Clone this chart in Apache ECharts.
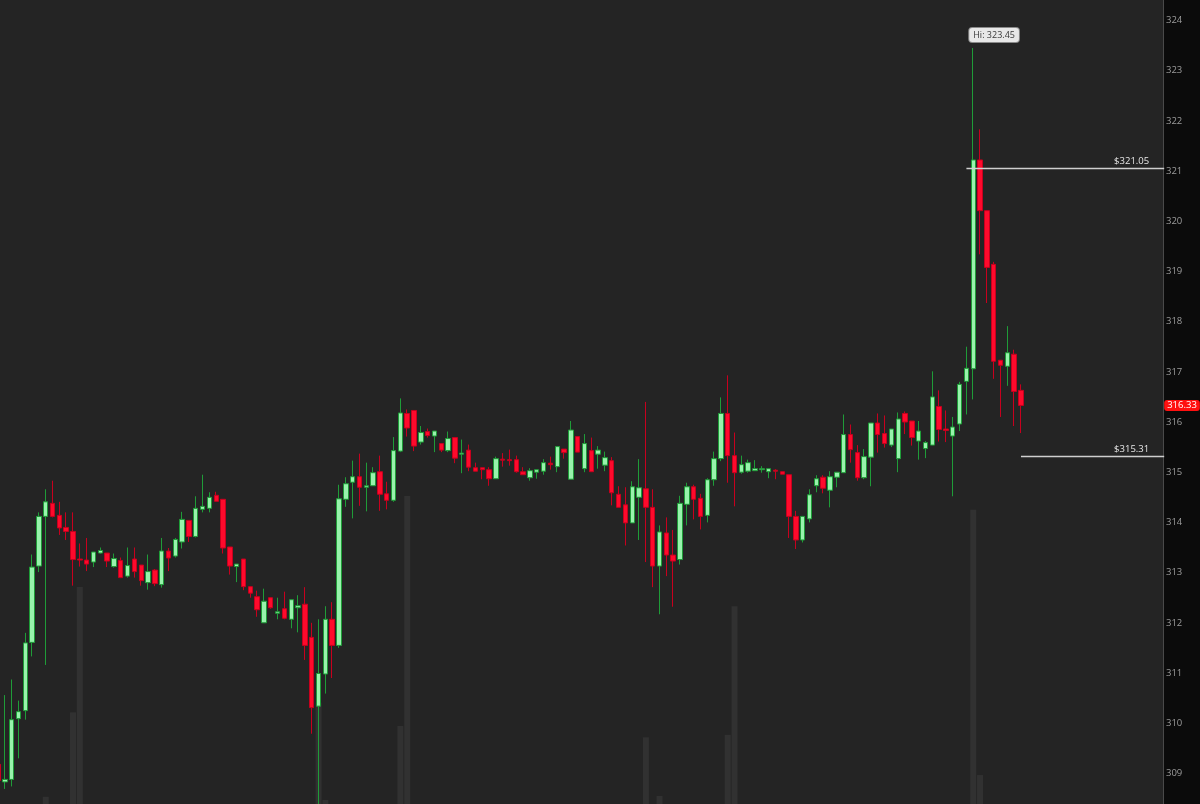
<!DOCTYPE html>
<html><head><meta charset="utf-8">
<script src="https://cdn.jsdelivr.net/npm/echarts@6/dist/echarts.min.js"></script>
<style>html,body{margin:0;padding:0;background:#242424;overflow:hidden}#c{width:1200px;height:804px}</style>
</head><body><div id="c"></div>
<script>
const opens = [
309.18,308.83,308.88,310.09,310.25,311.61,313.13,314.12,314.38,314.14,
313.90,313.82,313.27,313.25,313.21,313.39,313.39,313.12,313.24,312.93,
313.27,313.15,312.80,313.05,312.76,313.43,313.33,313.61,314.04,313.72,
314.26,314.28,314.54,314.46,313.51,313.12,313.27,312.72,312.52,312.00,
312.50,312.19,312.28,312.07,312.30,312.37,311.71,310.34,310.98,312.07,
311.55,314.46,314.80,314.91,314.70,314.73,315.01,314.57,314.44,315.42,
316.17,316.23,315.60,315.81,315.72,315.57,315.43,315.69,315.36,315.44,
315.09,315.09,315.05,314.87,315.26,315.25,315.25,315.01,314.89,315.00,
315.02,315.18,315.11,315.46,314.86,315.71,315.07,315.43,315.36,315.14,
315.23,314.56,314.35,313.99,314.50,314.67,314.30,313.13,313.79,313.35,
313.26,314.36,314.71,314.48,314.14,314.85,315.27,316.17,315.33,315.00,
315.02,315.03,315.05,315.01,315.04,315.01,314.95,314.12,313.65,314.07,
314.73,314.90,314.64,314.90,314.99,315.75,315.39,314.89,315.30,315.98,
315.77,315.54,315.27,316.17,316.02,315.62,315.47,315.54,316.31,315.86,
315.72,315.96,316.81,317.06,321.22,320.21,319.14,317.23,317.11,317.35,
316.63];
const closes = [
308.86,308.88,310.07,310.23,311.60,313.11,314.12,314.41,314.12,313.89,
313.82,313.26,313.25,313.17,313.41,313.44,313.23,313.28,312.90,313.14,
313.02,312.84,313.02,312.78,313.43,313.29,313.66,314.06,313.72,314.28,
314.32,314.50,314.42,313.49,313.13,313.17,312.72,312.59,312.26,312.43,
312.30,312.22,312.09,312.46,312.34,311.55,310.31,310.99,312.07,311.55,
314.47,314.77,314.91,314.70,314.73,314.99,314.56,314.44,315.43,316.18,
315.88,315.52,315.79,315.73,315.82,315.44,315.67,315.28,315.38,315.10,
315.02,315.05,314.87,315.27,315.24,315.23,315.01,314.95,315.03,315.05,
315.19,315.15,315.51,315.39,315.84,315.40,315.57,315.01,315.44,315.29,
314.59,314.30,313.99,314.71,314.69,314.30,313.13,313.81,313.35,313.23,
314.38,314.71,314.46,314.12,314.85,315.27,316.17,315.33,314.99,315.15,
315.19,315.07,315.07,315.07,315.02,314.96,314.12,313.65,314.12,314.55,
314.87,314.68,314.91,315.00,315.75,315.45,314.89,315.31,315.98,315.75,
315.57,315.86,316.06,316.00,315.69,315.82,315.59,316.50,315.85,315.83,
315.90,316.75,317.07,321.22,320.21,319.08,317.21,317.13,317.38,316.61,
316.33];
const lows = [
308.75,308.69,308.74,309.30,310.07,311.33,313.01,311.16,314.10,313.75,
313.65,312.74,313.12,313.03,313.11,313.38,313.11,313.10,312.89,312.90,
312.90,312.74,312.66,312.73,312.70,313.03,313.30,313.48,313.61,313.70,
314.20,314.20,314.42,313.38,312.96,312.81,312.65,312.50,312.12,312.00,
312.28,312.07,312.07,311.89,311.81,311.26,309.79,308.30,310.59,310.90,
311.50,314.31,314.08,314.33,314.22,314.73,314.23,314.26,314.41,315.40,
315.71,315.42,315.55,315.69,315.40,315.40,315.40,315.18,314.98,315.02,
315.02,314.86,314.73,314.87,315.11,315.13,314.99,314.95,314.83,314.87,
314.95,315.05,315.00,315.27,314.86,315.40,315.00,315.01,315.07,315.02,
314.34,314.30,313.54,313.99,313.65,313.21,312.71,312.17,312.93,312.32,
313.16,313.94,314.06,313.86,314.00,314.73,315.22,314.79,314.32,314.97,
314.99,315.03,314.99,314.88,314.86,314.96,313.69,313.47,313.60,314.00,
314.60,314.58,314.30,314.70,314.99,315.19,314.83,314.86,314.72,315.39,
315.49,315.50,315.00,315.76,315.53,315.25,315.28,315.54,315.61,315.60,
314.52,315.82,316.15,316.45,319.34,318.37,316.86,316.10,316.72,315.92,
315.78];
const highs = [
309.30,310.56,310.87,310.45,311.80,313.36,314.20,314.66,314.83,314.41,
314.20,314.20,313.58,313.69,313.41,313.50,313.39,313.38,313.30,313.50,
313.50,313.15,313.36,313.07,313.69,313.49,313.69,314.21,314.04,314.52,
314.95,314.60,314.61,314.46,313.51,313.17,313.27,312.72,312.64,312.68,
312.50,312.50,312.62,312.46,312.55,312.71,312.00,312.07,312.33,312.41,
314.75,314.90,315.23,315.37,315.19,315.10,315.33,314.81,315.70,316.47,
316.25,316.23,315.92,315.87,315.82,315.57,315.81,315.69,315.65,315.55,
315.19,315.09,315.10,315.31,315.38,315.45,315.33,315.10,315.08,315.05,
315.26,315.31,315.51,315.46,316.02,315.71,315.76,315.69,315.52,315.41,
315.30,314.72,314.70,314.82,315.26,316.40,314.66,313.94,314.10,313.85,
314.53,314.79,314.75,314.57,314.88,315.41,316.49,316.93,315.79,315.33,
315.25,315.24,315.12,315.07,315.06,315.01,314.95,314.23,314.12,314.66,
314.94,314.94,315.02,315.00,316.15,315.95,315.54,315.46,315.98,316.17,
316.13,315.86,316.19,316.21,316.02,316.02,315.62,317.01,316.63,316.23,
316.10,316.80,317.50,323.45,321.83,320.21,319.19,317.23,317.91,317.44,
316.75];
// volume in thousands of shares
const volumes = [
0,0,0,0,0,0,0,9,0,0,
0,114,270,0,0,0,0,0,0,0,
0,0,0,0,0,0,0,0,0,0,
0,0,0,0,0,0,0,0,0,0,
0,0,0,0,0,0,0,126,5,0,
0,0,0,0,0,0,0,0,0,97,
383,0,0,0,0,0,0,0,0,0,
0,0,0,0,0,0,0,0,0,0,
0,0,0,0,0,0,0,0,0,0,
0,0,0,0,0,83,0,10,0,0,
0,0,0,0,0,0,0,86,246,0,
0,0,0,0,0,0,0,0,0,0,
0,0,0,0,0,0,0,0,0,0,
0,0,0,0,0,0,0,0,0,0,
0,0,0,366,36,0,0,0,0,0,
0];
// bar slots: 151 traded bars followed by empty future slots on the right
const futureSlots = 21;
const bars = Array.from({length: opens.length + futureSlots}, (_, i) => String(i + 1));
const hiIndex = 143, hiValue = 323.45;
const level1 = 321.05, level1Start = 142;
const level2 = 315.31, level2Start = 150;
const lastPrice = 316.33;
const yMin = 308, yMax = 325, yStep = 1;

const chart = echarts.init(document.getElementById('c'));
const FONT = 'Open Sans';
const lastSlot = bars.length - 1;
chart.setOption({
  backgroundColor: '#242424',
  animation: false,
  graphic: [{type: 'rect', z: -10, shape: {x: 1163.5, y: 0, width: 40, height: 804}, style: {fill: '#0b0b0b'}}],
  grid: [
    {left: -5.41, right: 32.4, top: -29.8, bottom: -19.6, outerBoundsMode: 'none', containLabel: false},
    {left: -5.41, right: 32.4, top: 0, bottom: 0, outerBoundsMode: 'none', containLabel: false}
  ],
  xAxis: [
    {type: 'category', gridIndex: 0, data: bars, boundaryGap: true, show: false},
    {type: 'category', gridIndex: 1, data: bars, boundaryGap: true, show: false}
  ],
  yAxis: [
    {type: 'value', gridIndex: 0, position: 'right', offset: -4.6, min: yMin, max: yMax, interval: yStep,
     splitLine: {show: false}, axisTick: {show: false},
     axisLine: {show: true, lineStyle: {color: '#4a4a4a', width: 1}},
     axisLabel: {color: '#9c9c9c', fontSize: 9.5, fontFamily: FONT, margin: 3}},
    {type: 'value', gridIndex: 1, min: 0, max: 1000, show: false, splitLine: {show: false}}
  ],
  series: [
    {type: 'bar', xAxisIndex: 1, yAxisIndex: 1, data: volumes, barWidth: '88%',
     itemStyle: {color: '#313131'}, silent: true},
    {type: 'candlestick', xAxisIndex: 0, yAxisIndex: 0, barWidth: '72%',
     data: opens.map((o, i) => [o, closes[i], lows[i], highs[i]]),
     itemStyle: {color: '#98f3ac', color0: '#ff0a2c', borderColor: '#1f9c38', borderColor0: '#c8001e', borderWidth: 1},
     markPoint: {
       symbol: 'circle', symbolSize: 0,
       data: [{coord: [hiIndex, hiValue], value: hiValue}],
       label: {show: true, position: [-4, -20], formatter: p => 'Hi: ' + p.value.toFixed(2),
         color: '#3a3a3a', fontSize: 9, fontFamily: FONT, backgroundColor: '#e8e8e8',
         borderColor: '#8a8a8a', borderWidth: 1, borderRadius: 3, padding: [2, 4, 1, 4], lineHeight: 11}
     },
     markLine: {
       symbol: ['none', 'none'], silent: true, animation: false,
       data: [
         [{coord: [level1Start, level1], value: level1}, {coord: [lastSlot, level1]}],
         [{coord: [level2Start, level2], value: level2}, {coord: [lastSlot, level2]}],
         [{coord: [0, lastPrice], value: lastPrice, lineStyle: {color: 'rgba(0,0,0,0)', width: 0},
           label: {position: 'end', distance: 0, formatter: p => p.value.toFixed(2), color: '#fff',
             backgroundColor: '#ff1010', borderRadius: 3, padding: [1, 3, 0, 3], fontSize: 9.5, fontFamily: FONT}},
          {coord: [lastSlot, lastPrice]}]
       ],
       lineStyle: {color: '#cfcfcf', width: 1.3, type: 'solid'},
       label: {show: true, position: 'insideEndTop', distance: 2, padding: [0, 13, 0, 0],
         formatter: p => '$' + p.value.toFixed(2), color: '#e6e6e6', fontSize: 9.5, fontFamily: FONT}
     }
    }
  ]
});
</script></body></html>
